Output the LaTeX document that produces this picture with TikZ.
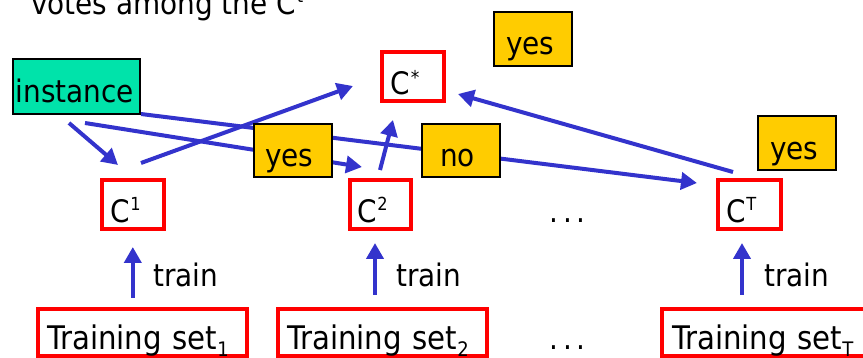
\documentclass[tikz,border=0pt]{standalone}
\usepackage{fontspec}
\setmainfont{DejaVu Sans Condensed}
\usetikzlibrary{arrows.meta}
\definecolor{arrowblue}{HTML}{3333CC}
\definecolor{voteyellow}{HTML}{FFCC00}
\definecolor{instgreen}{HTML}{00E3AA}
\newcommand\upidx[1]{\kern1pt\raisebox{12pt}{\fontsize{18}{20}\selectfont #1}}
\newcommand\lowidx[1]{\raisebox{-6pt}{\fontsize{20}{22}\selectfont #1}}
\newcommand\stardx{\kern1.5pt\raisebox{10pt}{\fontsize{19}{21}\selectfont *}}
\newcommand\spaceddots{.\kern5pt.\kern5pt.}
\newcommand\setfont{\fontsize{32.5}{36}\selectfont}
\begin{document}
\begin{tikzpicture}[x=1pt,y=-1pt,
  font=\fontsize{31}{36}\selectfont,
  box/.style={rectangle, anchor=north west, inner ysep=0pt, align=left},
  redbox/.style={box, draw=red, line width=4pt},
  setbox/.style={redbox, font=\setfont, text height=41.3pt, text depth=6.5pt},
  votebox/.style={box, draw=black, line width=2pt, fill=voteyellow},
  instbox/.style={box, draw=black, line width=2pt, fill=instgreen},
  plain/.style={inner sep=0pt, anchor=base west},
  arr/.style={draw=arrowblue, line width=4pt, -{Triangle[length=16pt,width=17pt]}}]
\useasboundingbox (0,0) rectangle (863,358);
\clip (0,0) rectangle (863,358);

% heading
\node[plain] (title) at (31,15) {votes among the C\upidx{t}};

% arrow end points
\coordinate (i1s) at (69,123);   \coordinate (i1e) at (118,165);
\coordinate (c1s) at (141,163);  \coordinate (c1e) at (353,86);
\coordinate (i2s) at (85,123);   \coordinate (i2e) at (362,167);
\coordinate (iTs) at (141,114);  \coordinate (iTe) at (697,183);
\coordinate (c2s) at (380,170);  \coordinate (c2e) at (393,120);
\coordinate (cTs) at (733,172);  \coordinate (cTe) at (458,94);
\coordinate (t1s) at (132.8,298); \coordinate (t1e) at (132.8,247);
\coordinate (t2s) at (375,295);   \coordinate (t2e) at (375,243);
\coordinate (tTs) at (742,295);   \coordinate (tTe) at (742,243);

% votes and instance connectors
\draw[arr] (i1s) -- (i1e);
\draw[arr] (i2s) -- (i2e);
\draw[arr] (iTs) -- (iTe);
\draw[arr] (c1s) -- (c1e);
\draw[arr] (c2s) -- (c2e);
\draw[arr] (cTs) -- (cTe);

% training connectors
\draw[arr] (t1s) -- (t1e);
\draw[arr] (t2s) -- (t2e);
\draw[arr] (tTs) -- (tTe);

% instance
\node[instbox, inner xsep=3pt, text width=121pt, text height=44pt, text depth=11pt]
  (inst) at (12,58) {instance};

% combined classifier
\node[redbox, inner xsep=8pt, text width=45.7pt, text height=43pt, text depth=6.3pt]
  (cstar) at (380,50) {C\stardx};

% base classifiers
\node[redbox, inner xsep=8pt, text width=45.7pt, text height=43pt, text depth=6pt]
  (c1) at (100,178) {C\upidx{1}};
\node[redbox, inner xsep=7pt, text width=47pt, text height=43pt, text depth=6pt]
  (c2) at (348,178) {C\upidx{2}};
\node[redbox, inner xsep=8pt, text width=47pt, text height=43pt, text depth=6pt]
  (cT) at (716,178) {C\upidx{T}};

% training sets
\node[setbox, inner xsep=9pt, text width=191pt] (ts1) at (36,306.7) {Training set\lowidx{1}};
\node[setbox, inner xsep=9pt, text width=191pt] (ts2) at (276,306.7) {Training set\lowidx{2}};
\node[setbox, inner xsep=10pt, text width=200pt] (tsT) at (660,306.7) {Training set\lowidx{T}};

% votes
\node[votebox, inner xsep=12.3pt, text width=53.7pt, text height=43.3pt, text depth=10.7pt]
  (vtop) at (492.7,10.7) {yes};
\node[votebox, inner xsep=11pt, text width=56pt, text height=43pt, text depth=10pt]
  (v1) at (253,123) {yes};
\node[votebox, inner xsep=18.3pt, text width=41.7pt, text height=43pt, text depth=10pt]
  (v2) at (420.7,123) {no};
\node[votebox, inner xsep=12.3pt, text width=53.7pt, text height=44pt, text depth=10pt]
  (vT) at (756.7,115) {yes};

% train labels
\node[plain] (l1) at (153,287) {train};
\node[plain] (l2) at (396,287) {train};
\node[plain] (lT) at (764,287) {train};

% ellipses
\node[plain] (dtop) at (549,222.5) {\spaceddots};
\node[plain] (dbot) at (549,349) {\spaceddots};
\end{tikzpicture}
\end{document}
